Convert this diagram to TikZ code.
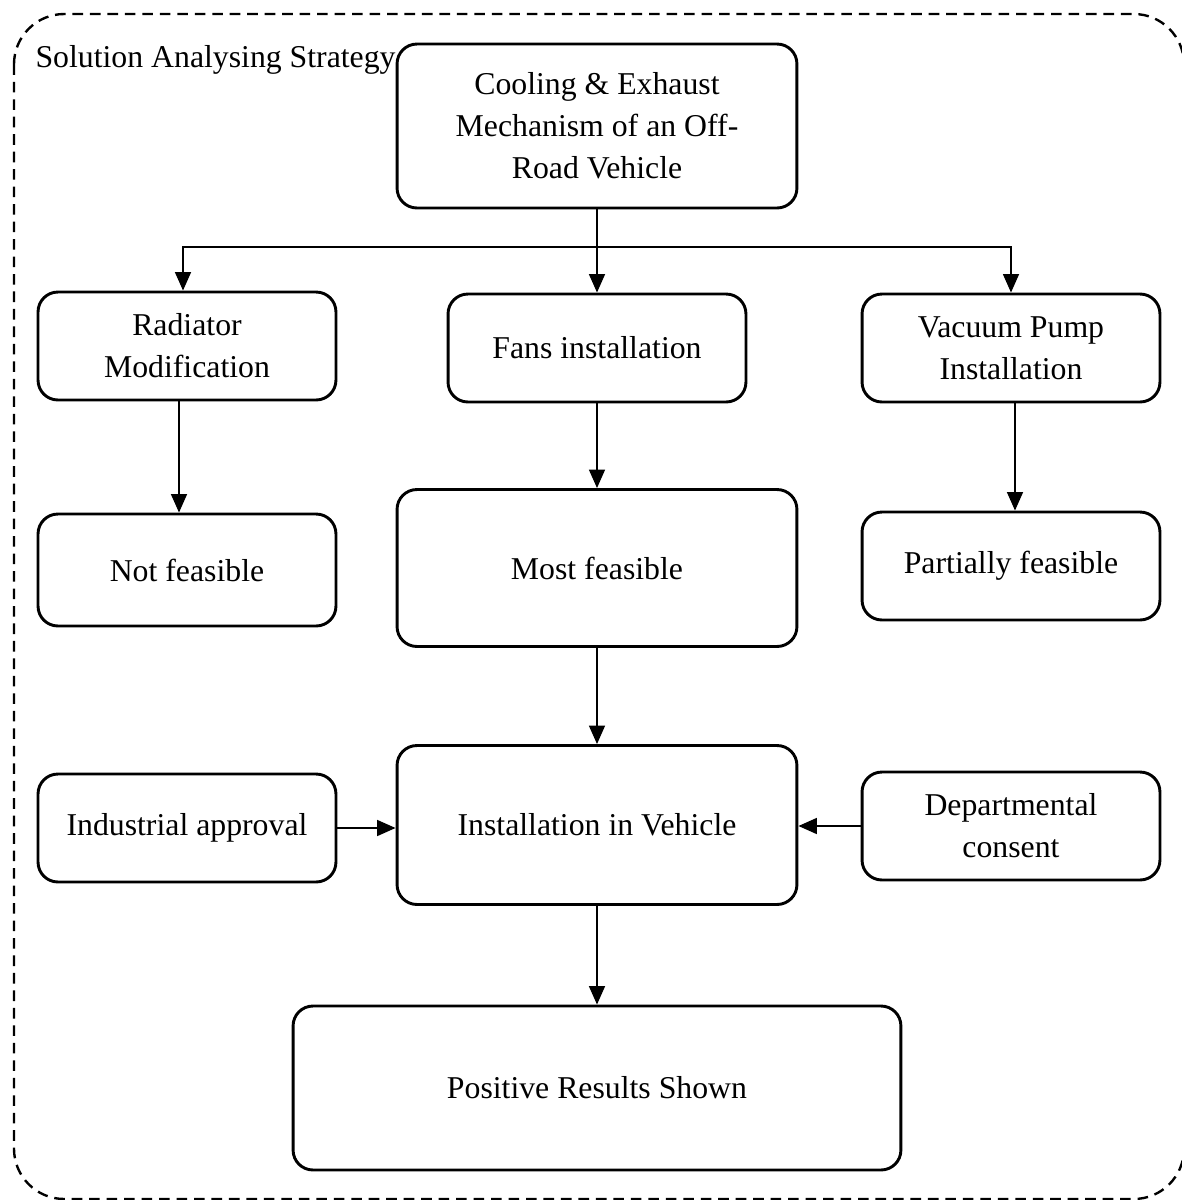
\documentclass[tikz,border=0pt]{standalone}
\usepackage{fontspec}
\setmainfont{Liberation Serif}
\usepackage{tikz}
\usetikzlibrary{arrows.meta}

% one pixel of the layout grid
\newcommand{\px}{0.3776pt}

\tikzset{
    box/.style={draw, line width=1.1pt, rounded corners=7.5pt, align=center,
        font=\fontsize{12}{15.8}\selectfont, inner sep=0pt},
    smallbox/.style={box, minimum width=298*\px, minimum height=108*\px},
    bigbox/.style={box, minimum width=400*\px, minimum height=160*\px},
    arr/.style={line width=0.75pt, -{Triangle[length=7pt, width=6pt]}},
    frame/.style={line width=0.9pt, dash pattern=on 4pt off 2.6pt, rounded corners=19pt},
}

\begin{document}
\begin{tikzpicture}[x=0.01327cm, y=-0.01327cm]
        \useasboundingbox (0, 0) rectangle (1182, 1200);

        % outer frame
        \draw[frame] (14, 14) rectangle (1184, 1199);
        \node[anchor=base west, inner sep=0pt, font=\fontsize{12}{15.8}\selectfont] (title) at (35, 67) {Solution Analysing Strategy};

        \node[bigbox, minimum height=164*\px] (cool) at (597, 126) {Cooling \& Exhaust\\ Mechanism of an Off-\\ Road Vehicle};

        \node[smallbox] (rad) at (187, 346) {Radiator\\ Modification};
        \node[smallbox] (fans) at (597, 348) {Fans installation};
        \node[smallbox] (vac) at (1011, 348) {Vacuum Pump\\ Installation};

        \node[smallbox, minimum height=112*\px] (notf) at (187, 570) {Not feasible};
        \node[bigbox, minimum height=157*\px] (most) at (597, 568) {Most feasible};
        \node[smallbox] (part) at (1011, 566) {Partially feasible};

        \node[smallbox] (ind) at (187, 828) {Industrial approval};
        \node[bigbox, minimum height=159*\px] (inst) at (597, 825) {Installation in Vehicle};
        \node[smallbox] (dept) at (1011, 826) {Departmental\\ consent};

        \node[box, minimum width=608*\px, minimum height=164*\px] (res) at (597, 1088) {Positive Results Shown};

        % connectors
        \coordinate (split) at (597, 247);
        \draw[arr] (cool.south) -- (fans.north);
        \draw[arr] (split) -| ([xshift=-4*\px]rad.north);
        \draw[arr] (split) -| (vac.north);

        \draw[arr] ([xshift=-8*\px]rad.south) -- ([xshift=-8*\px]notf.north);
        \draw[arr] (fans.south) -- (most.north);
        \draw[arr] ([xshift=4*\px]vac.south) -- ([xshift=4*\px]part.north);

        \draw[arr] (most.south) -- (inst.north);
        \draw[arr] (ind.east) -- (ind.east -| inst.west);
        \draw[arr] (dept.west) -- (dept.west -| inst.east);
        \draw[arr] (inst.south) -- (res.north);
    \end{tikzpicture}
\end{document}
